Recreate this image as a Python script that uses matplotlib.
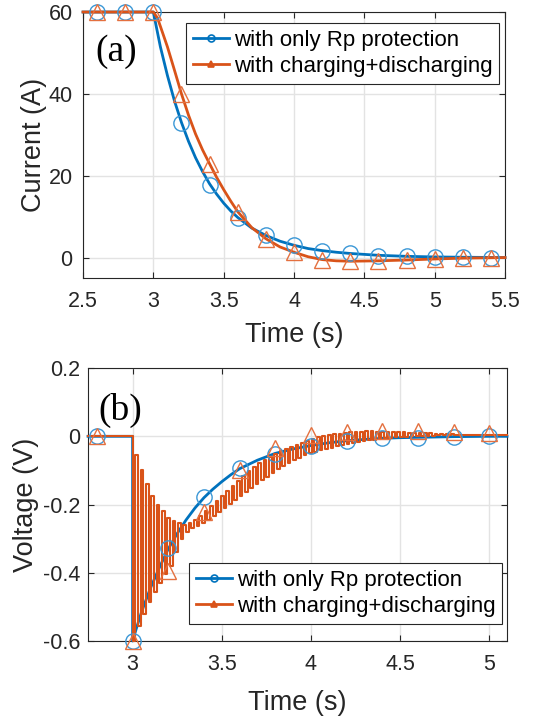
import numpy as np
import matplotlib
matplotlib.use('Agg')
import matplotlib.pyplot as plt
from matplotlib.lines import Line2D

plt.rcParams['font.family'] = ['Liberation Sans', 'DejaVu Sans']

BLUE = '#0072bd'
ORANGE = '#d95319'
BLUE_MK = '#3a97d6'
ORANGE_MK = '#e4703f'
TXT = '#262626'

labels = ['with only Rp protection', 'with charging+discharging']

# ---- panel (a): current ----
a_t_blue = [2.5, 3.0, 3.05, 3.1, 3.15, 3.2, 3.25, 3.3, 3.35, 3.4, 3.45, 3.5, 3.55, 3.6,
            3.7, 3.8, 3.9, 4.0, 4.1, 4.2, 4.3, 4.4, 4.6, 4.8, 5.0, 5.2, 5.5]
a_blue = [60, 60, 51.5, 44.5, 38.3, 33.0, 28.4, 24.4, 21.0, 18.0, 15.5, 13.3, 11.4, 9.8,
          7.2, 5.4, 4.0, 3.0, 2.2, 1.7, 1.3, 1.0, 0.55, 0.3, 0.15, 0.08, 0.0]
a_t_orange = [2.5, 3.0, 3.03, 3.06, 3.1, 3.15, 3.2, 3.25, 3.3, 3.35, 3.4, 3.45, 3.5, 3.55,
              3.6, 3.7, 3.8, 3.9, 4.0, 4.1, 4.2, 4.3, 4.4, 4.6, 4.8, 5.0, 5.2, 5.5]
a_orange = [60, 60, 58.5, 55.5, 51.5, 45.8, 40.0, 34.8, 30.2, 26.3, 22.9, 19.6, 16.6, 13.8,
            11.2, 7.3, 4.6, 2.6, 1.3, 0.2, -0.5, -0.8, -0.9, -0.8, -0.6, -0.35, -0.15, 0.0]

a_mk_t = [2.6, 2.8, 3.0, 3.2, 3.4, 3.6, 3.8, 4.0, 4.2, 4.4, 4.6, 4.8, 5.0, 5.2, 5.4]
a_mk_blue = [60, 60, 60, 32.8, 17.8, 9.7, 5.4, 3.0, 1.7, 1.1, 0.5, 0.3, 0.2, 0.1, 0.0]
a_mk_orange = [60, 60, 60, 39.9, 22.9, 11.1, 4.6, 1.4, -0.7, -0.9, -0.8, -0.6, -0.3, -0.15, 0.0]

a_xticks = [2.5, 3, 3.5, 4, 4.5, 5, 5.5]
a_xlabels = ['2.5', '3', '3.5', '4', '4.5', '5', '5.5']
a_yticks = [0, 20, 40, 60]
a_ylabels = ['0', '20', '40', '60']

# ---- panel (b): voltage ----
b_t_blue = [2.75, 3.0, 3.0, 3.02, 3.05, 3.1, 3.15, 3.2, 3.25, 3.3, 3.35, 3.4, 3.45, 3.5,
            3.55, 3.6, 3.7, 3.8, 3.9, 4.0, 4.1, 4.2, 4.3, 4.4, 4.5, 4.6, 4.8, 5.0, 5.1]
b_blue = [0, 0, -0.6, -0.565, -0.515, -0.445, -0.385, -0.33, -0.285, -0.245, -0.21, -0.18,
          -0.155, -0.133, -0.113, -0.095, -0.07, -0.05, -0.037, -0.027, -0.019, -0.013,
          -0.009, -0.006, -0.004, -0.003, -0.001, 0.0, 0.0]

# switching cycles of the charging/discharging trace (one level pair per cycle from 3.0 s)
sw_start = 3.0
sw_period = 0.03
b_low = [-0.600, -0.555, -0.520, -0.485, -0.455, -0.430, -0.405, -0.380, -0.340, -0.300,
         -0.280, -0.270, -0.262, -0.253, -0.244, -0.235, -0.223, -0.211, -0.199, -0.187,
         -0.175, -0.163, -0.151, -0.139, -0.128, -0.120, -0.108, -0.097, -0.088, -0.079,
         -0.070, -0.063, -0.056, -0.050, -0.045, -0.041, -0.037, -0.034, -0.029, -0.026,
         -0.022, -0.020, -0.017, -0.015, -0.012, -0.010, -0.008, -0.006, -0.004, -0.003,
         -0.002, -0.001, 0.000, 0.001, 0.001, 0.002, 0.002, 0.003, 0.003, 0.004]
b_high = [-0.055, -0.100, -0.140, -0.175, -0.200, -0.220, -0.238, -0.248, -0.255, -0.260,
          -0.255, -0.246, -0.235, -0.220, -0.205, -0.190, -0.176, -0.160, -0.145, -0.130,
          -0.115, -0.103, -0.091, -0.079, -0.069, -0.060, -0.051, -0.043, -0.037, -0.031,
          -0.025, -0.019, -0.013, -0.007, -0.002, 0.001, 0.003, 0.006, 0.008, 0.010,
          0.012, 0.013, 0.014, 0.015, 0.015, 0.014, 0.014, 0.014, 0.013, 0.012,
          0.012, 0.011, 0.011, 0.010, 0.009, 0.009, 0.008, 0.008, 0.007, 0.007]
b_tail = 0.005

b_mk_t = [2.8, 3.0, 3.2, 3.4, 3.6, 3.8, 4.0, 4.2, 4.4, 4.6, 4.8, 5.0]
b_mk_blue = [0, -0.6, -0.327, -0.177, -0.094, -0.052, -0.029, -0.013, -0.006, -0.005, -0.003, 0.0]
b_mk_orange = [0, -0.6, -0.395, -0.221, -0.098, -0.034, 0.004, 0.014, 0.015, 0.015, 0.014, 0.011]

b_xticks = [3, 3.5, 4, 4.5, 5]
b_xlabels = ['3', '3.5', '4', '4.5', '5']
b_yticks = [-0.6, -0.4, -0.2, 0, 0.2]
b_ylabels = ['-0.6', '-0.4', '-0.2', '0', '0.2']

# build the step trace from the cycle levels
n = len(b_low)
starts = sw_start + sw_period * np.arange(n)
sq_t = np.column_stack([starts, starts + sw_period / 2, starts + sw_period / 2,
                        starts + sw_period]).ravel()
sq_v = np.column_stack([b_low, b_low, b_high, b_high]).ravel()
end_t = starts[-1] + sw_period
sq_t = np.concatenate([[2.75, 3.0], sq_t, [end_t, 5.1]])
sq_v = np.concatenate([[0, 0], sq_v, [b_tail, b_tail]])


def style(ax, ypad):
    ax.grid(True, color='#e3e3e3', lw=1)
    ax.set_axisbelow(True)
    for s in ax.spines.values():
        s.set_color(TXT)
        s.set_linewidth(0.8)
    ax.tick_params(direction='in', top=True, right=True, length=4, width=0.8,
                   colors=TXT, labelsize=15.5)
    ax.tick_params(axis='x', pad=9.5)
    ax.tick_params(axis='y', pad=ypad)


def legend(ax, anchor):
    handles = [Line2D([], [], color=BLUE, lw=2, marker='o', ms=5, mfc='none', mew=1.2),
               Line2D([], [], color=ORANGE, lw=2, marker='^', ms=5, mfc=ORANGE, mew=1.2)]
    lg = ax.legend(handles, labels, loc='upper right', bbox_to_anchor=anchor,
                   fontsize=16, handlelength=1.65, handletextpad=0.2, borderpad=0.3,
                   labelspacing=0.25, borderaxespad=0, fancybox=False, framealpha=1)
    lg.get_frame().set_edgecolor(TXT)
    lg.get_frame().set_linewidth(0.8)


fig = plt.figure(figsize=(5.37, 7.24), dpi=100)
ax1 = fig.add_axes([0.1546, 0.616, 0.7858, 0.3674])
ax2 = fig.add_axes([0.1639, 0.1146, 0.7803, 0.377])

# panel a
ax1.plot(a_t_blue, a_blue, color=BLUE, lw=2, clip_on=False, zorder=3)
ax1.plot(a_t_orange, a_orange, color=ORANGE, lw=2, clip_on=False, zorder=4)
ax1.plot(a_mk_t, a_mk_blue, 'o', ms=11, mfc='none', mec=BLUE_MK, mew=1, clip_on=False, zorder=5)
ax1.plot(a_mk_t, a_mk_orange, '^', ms=11, mfc='none', mec=ORANGE_MK, mew=1, clip_on=False, zorder=5)
ax1.set_xlim(2.5, 5.5)
ax1.set_ylim(-5, 60)
ax1.set_xticks(a_xticks)
ax1.set_xticklabels(a_xlabels)
ax1.set_yticks(a_yticks)
ax1.set_yticklabels(a_ylabels)
style(ax1, 7.5)
ax1.set_xlabel('Time (s)', fontsize=19.5, color=TXT)
ax1.xaxis.set_label_coords(0.5, -0.165)
ax1.set_ylabel('Current (A)', fontsize=19.5, color=TXT)
ax1.yaxis.set_label_coords(-0.085, 0.5)
ax1.text(0.078, 0.85, '(a)', transform=ax1.transAxes, ha='center', va='center',
         fontsize=27, family='Liberation Serif', color='black')
legend(ax1, (0.986, 0.9587))

# panel b
ax2.plot(b_t_blue, b_blue, color=BLUE, lw=2, clip_on=False, zorder=3)
ax2.plot(sq_t, sq_v, color=ORANGE, lw=1.5, clip_on=False, zorder=4)
ax2.plot(b_mk_t, b_mk_blue, 'o', ms=11, mfc='none', mec=BLUE_MK, mew=1, clip_on=False, zorder=5)
ax2.plot(b_mk_t, b_mk_orange, '^', ms=11, mfc='none', mec=ORANGE_MK, mew=1, clip_on=False, zorder=5)
ax2.set_xlim(2.75, 5.1)
ax2.set_ylim(-0.6, 0.2)
ax2.set_xticks(b_xticks)
ax2.set_xticklabels(b_xlabels)
ax2.set_yticks(b_yticks)
ax2.set_yticklabels(b_ylabels)
style(ax2, 5.5)
ax2.set_xlabel('Time (s)', fontsize=19.5, color=TXT)
ax2.xaxis.set_label_coords(0.5, -0.18)
ax2.set_ylabel('Voltage (V)', fontsize=19.5, color=TXT)
ax2.yaxis.set_label_coords(-0.118, 0.5)
ax2.text(0.076, 0.846, '(b)', transform=ax2.transAxes, ha='center', va='center',
         fontsize=27, family='Liberation Serif', color='black')
legend(ax2, (0.988, 0.2857))

fig.savefig('out.png', dpi=100)
